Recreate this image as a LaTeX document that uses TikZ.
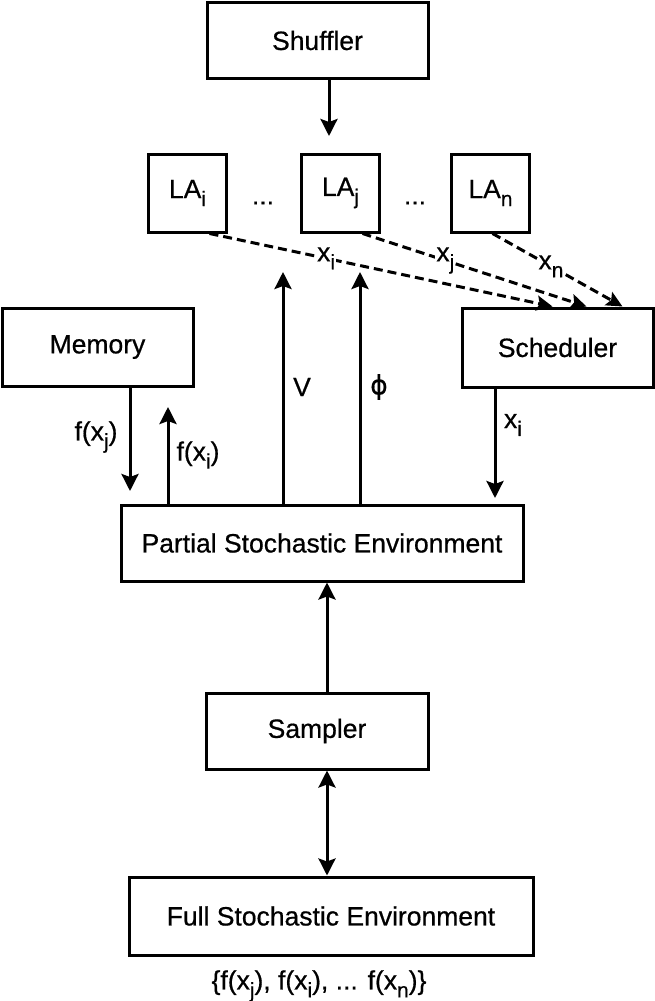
\documentclass[tikz,border=0pt]{standalone}
\usepackage{fontspec}
\setmainfont{Liberation Sans}[FakeBold=0.6]
\newfontfamily\phifont{DejaVu Sans}[FakeBold=0.6]
\usetikzlibrary{arrows.meta,calc}
\newcommand\mysub[1]{\raisebox{-0.3em}{\fontsize{21}{21}\selectfont #1}}
\begin{document}
\begin{tikzpicture}[x=1pt,y=-1pt,
  box/.style={draw, line width=3pt, inner sep=0pt, font=\fontsize{26.5}{30}\selectfont},
  tip/.style={},
  arr/.style={line width=3pt, -{Stealth[length=17pt,width=17pt,inset=3pt]}},
  biarr/.style={line width=3pt, {Stealth[length=17pt,width=17pt,inset=3pt]}-{Stealth[length=17pt,width=17pt,inset=3pt]}},
  darr/.style={line width=3pt, dash pattern=on 9pt off 5pt, -{Stealth[length=16pt,width=15pt,inset=3pt]}},
  lbl/.style={font=\fontsize{26.5}{30}\selectfont, inner sep=1pt}]
\path[use as bounding box, fill=white] (0,0) rectangle (655,1001);

% boxes
\node[box, minimum width=221pt, minimum height=76pt] (shuffler) at (317.5,40.5) {Shuffler};
\node[box, minimum width=78pt, minimum height=78pt] (LAi) at (187.5,193) {LA\mysub{i}};
\node[box, minimum width=78pt, minimum height=78pt] (LAj) at (340.5,193) {LA\mysub{j}};
\node[box, minimum width=78pt, minimum height=78pt] (LAn) at (490.5,193) {LA\mysub{n}};
\node[lbl] (dots1) at (263,203) {...};
\node[lbl] (dots2) at (415,203) {...};
\node[box, minimum width=191pt, minimum height=78pt] (memory) at (97.5,347) {Memory};
\node[box, minimum width=191pt, minimum height=79pt] (scheduler) at (557.5,347.5) {Scheduler};
\node[box, minimum width=402pt, minimum height=76pt] (PSE) at (322,543) {Partial Stochastic Environment};
\node[box, minimum width=222pt, minimum height=76pt] (sampler) at (317,731) {Sampler};
\node[box, minimum width=404pt, minimum height=78pt] (FSE) at (331,916) {Full Stochastic Environment};

% free ends
\coordinate (shufend) at (329,136);
\coordinate (memend) at (130,491);
\coordinate (upend) at (168,407);
\coordinate (vend) at (283,272);
\coordinate (phiend) at (360,272);
\coordinate (schend) at (495,498);
\coordinate (colx) at (327,0);

% connectors
\draw[arr] (shuffler.south -| shufend) -- (shufend);
\draw[darr] ($(LAi.south)+(22,0)$) -- node[lbl, fill=white, pos=0.34] (lxi) {x\mysub{i}} ($(scheduler.north)+(-5,0)$);
\draw[darr] ($(LAj.south)+(22,0)$) -- node[lbl, fill=white, pos=0.37] (lxj) {x\mysub{j}} ($(scheduler.north)+(29,0)$);
\draw[darr] ($(LAn.south)+(2,0)$) -- node[lbl, fill=white, pos=0.45] (lxn) {x\mysub{n}} ($(scheduler.north)+(65,0)$);
\draw[arr] (memory.south -| memend) -- (memend);
\draw[arr] (PSE.north -| upend) -- (upend);
\draw[arr] (PSE.north -| vend) -- (vend);
\draw[arr] (PSE.north -| phiend) -- (phiend);
\draw[arr] (scheduler.south -| schend) -- (schend);
\draw[arr] (sampler.north -| colx) -- (PSE.south -| colx);
\draw[biarr] (sampler.south -| colx) -- (FSE.north -| colx);

% labels
\node[lbl] (lfj) at (96,437) {f(x\mysub{j})};
\node[lbl] (lfi) at (198,455) {f(x\mysub{i})};
\node[lbl] (lv) at (302,387) {V};
\node[lbl] (lphi) at (379,387) {\phifont ϕ};
\node[lbl] (lsx) at (513,425) {x\mysub{i}};
\node[lbl] (lall) at (319,986) {\{f(x\mysub{j}), f(x\mysub{i}), ... f(x\mysub{n})\}};
\end{tikzpicture}
\end{document}
